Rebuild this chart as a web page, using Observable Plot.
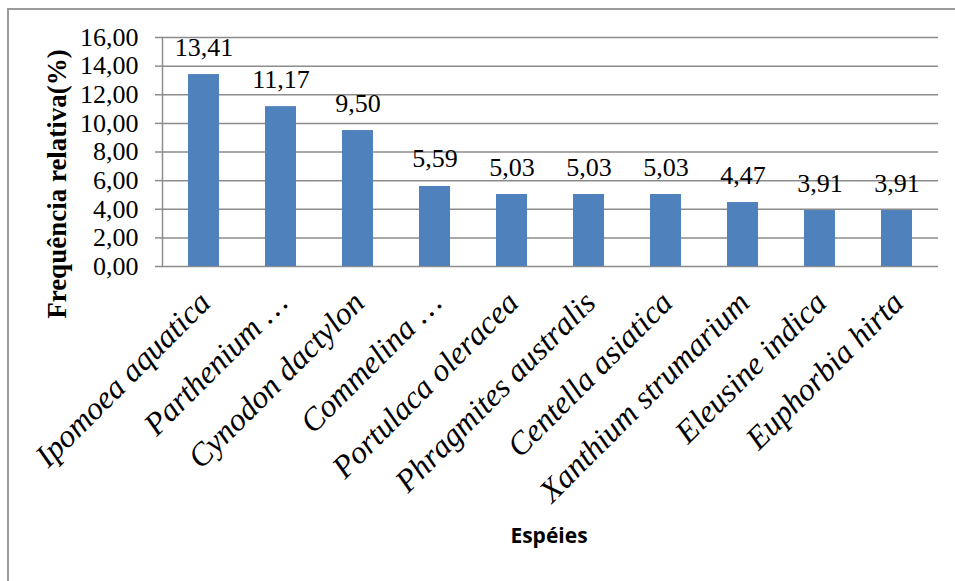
<!DOCTYPE html>
<html><head><meta charset="utf-8">
<script src="https://cdn.jsdelivr.net/npm/d3@7"></script>
<script src="https://cdn.jsdelivr.net/npm/@observablehq/plot@0.6"></script>
<style>
body{margin:0;overflow:hidden;background:#fff;width:955px;height:581px;position:relative}
#frame{position:absolute;left:7px;top:8px;width:1000px;height:1000px;border:2px solid #9a9a9a;box-sizing:border-box}
#chart{position:absolute;left:0;top:0}
.ytitle{position:absolute;left:57px;top:184px;transform:translate(-50%,-50%) rotate(-90deg);white-space:nowrap;font-family:"Liberation Serif","Times New Roman",Times,serif;font-weight:bold;font-size:27px;color:#000}
.xtitle{position:absolute;left:549px;top:535px;transform:translate(-50%,-50%);white-space:nowrap;font-family:"Open Sans",sans-serif;font-weight:bold;font-size:21px;color:#000}
</style>
</head><body>
<div id="frame"></div>
<div id="chart"></div>
<div class="ytitle">Frequência relativa(%)</div>
<div class="xtitle">Espéies</div>
<script>
const species = ["Ipomoea aquatica","Parthenium …","Cynodon dactylon","Commelina …","Portulaca oleracea","Phragmites australis","Centella asiatica","Xanthium strumarium","Eleusine indica","Euphorbia hirta"];
const values = [13.41, 11.17, 9.50, 5.59, 5.03, 5.03, 5.03, 4.47, 3.91, 3.91];
const yTicks = [0, 2, 4, 6, 8, 10, 12, 14, 16];

const fmt = d => d.toFixed(2).replace(".", ",");
const data = species.map((s, i) => ({species: s, value: values[i]}));
const serif = "'Liberation Serif', 'Times New Roman', Times, serif";

const chart = Plot.plot({
  width: 955,
  height: 581,
  marginLeft: 162,
  marginRight: 17,
  marginTop: 37,
  marginBottom: 315,
  style: {fontFamily: serif, background: "transparent"},
  x: {domain: species, paddingInner: 0.6, paddingOuter: 0.3, axis: null},
  y: {domain: [0, 16], axis: null},
  marks: [
    Plot.gridY(yTicks, {stroke: "#8c8c8c", strokeOpacity: 1, strokeWidth: 1.5}),
    Plot.barY(data, {x: "species", y: "value", fill: "#4F81BD"}),
    Plot.frame({anchor: "left", stroke: "#8c8c8c", strokeWidth: 1.5}),
    Plot.axisY({ticks: yTicks, tickFormat: fmt, tickSize: 7, tickPadding: 17, stroke: "#8c8c8c", strokeWidth: 1.5, strokeOpacity: 1, fill: "#000", fontSize: 26, fontFamily: serif, label: null}),
    Plot.text(data, {x: "species", y: "value", text: d => fmt(d.value), lineAnchor: "bottom", dy: -19, fontSize: 26, fontFamily: serif, fill: "#000"}),
    Plot.text(data, {x: "species", y: () => 0, text: "species", rotate: -45, textAnchor: "end", lineAnchor: "middle", dx: 1, dy: 31, fontSize: 32, fontStyle: "italic", fontFamily: serif, fill: "#000"})
  ]
});
document.getElementById("chart").appendChild(chart);
</script>
</body></html>
